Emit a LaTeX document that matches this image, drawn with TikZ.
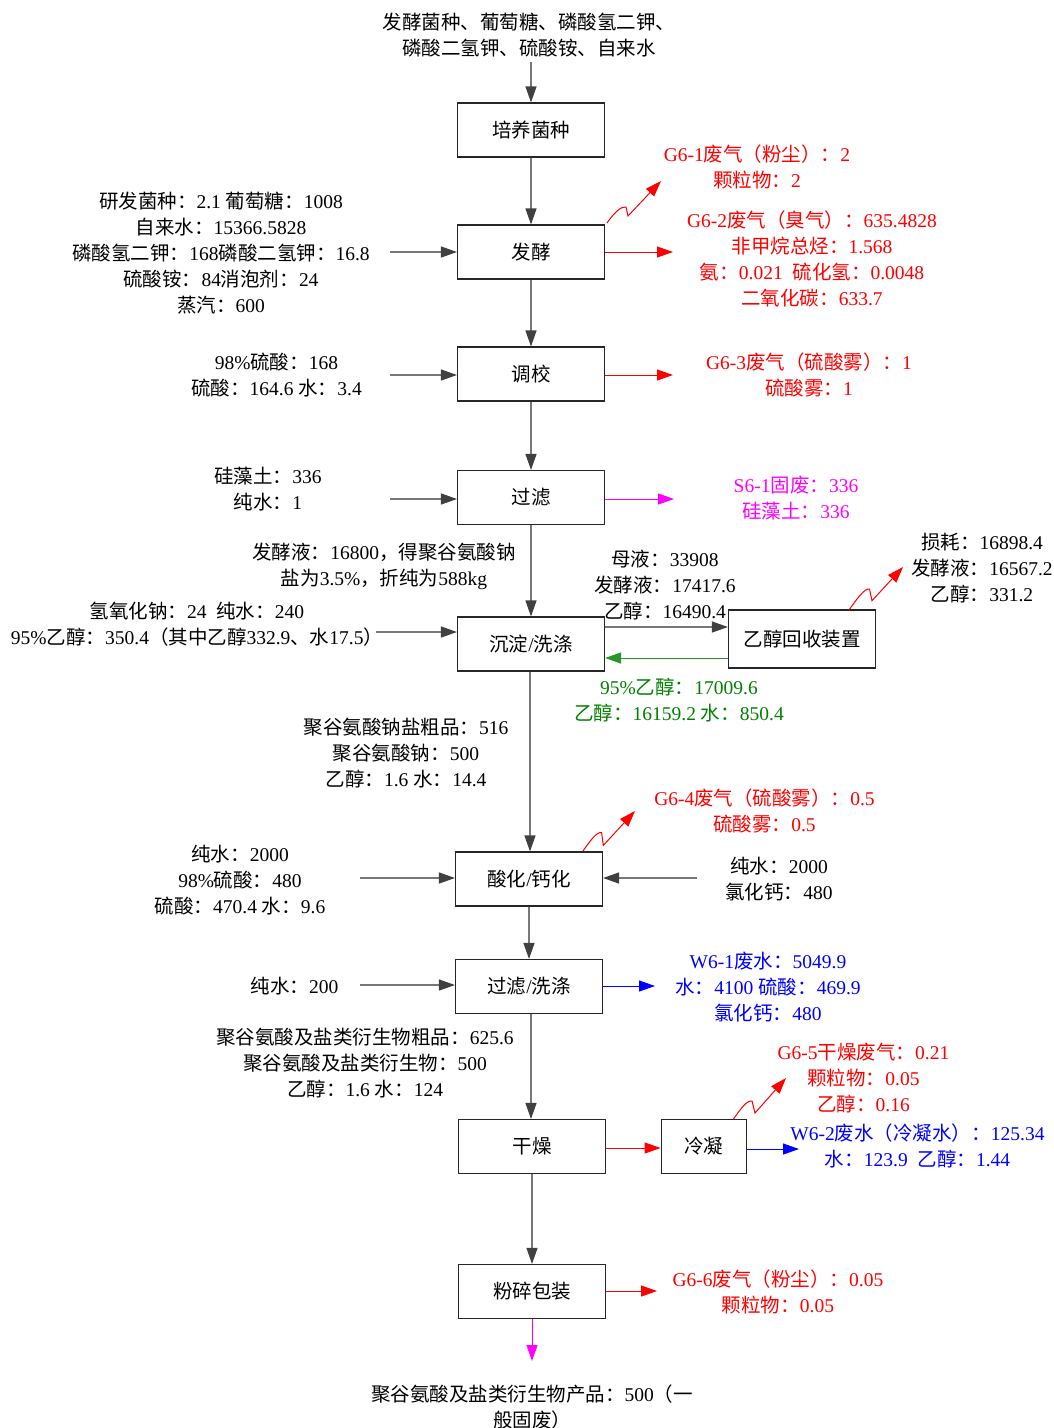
\documentclass[tikz,border=0pt]{standalone}
\usepackage{fontspec}
\setmainfont{Liberation Serif}
\newfontfamily\latfont{Liberation Serif}
\newfontfamily\cjkfont{Noto Sans CJK SC}
\usetikzlibrary{arrows.meta,calc}
\newXeTeXintercharclass\CJKcls
\newcount\myc
\def\setcls#1#2{\myc=#1\relax\loop\XeTeXcharclass\myc=\CJKcls\relax\ifnum\myc<#2\relax\advance\myc by 1\relax\repeat}
\setcls{"3000}{"303F}
\setcls{"4E00}{"9FFF}
\setcls{"FF00}{"FFEF}
\XeTeXinterchartoks 0 \CJKcls = {\cjkfont}
\XeTeXinterchartoks 4095 \CJKcls = {\cjkfont}
\XeTeXinterchartoks \CJKcls 0 = {\latfont}
\XeTeXinterchartoks \CJKcls 4095 = {\latfont}
\XeTeXinterchartokenstate=1
\definecolor{cred}{RGB}{255,0,0}
\definecolor{cmag}{RGB}{255,0,255}
\definecolor{cblue}{RGB}{0,0,255}
\definecolor{cgreen}{RGB}{0,128,0}
\definecolor{cgline}{RGB}{40,150,40}
\definecolor{cgray}{RGB}{120,120,120}
\definecolor{cdark}{RGB}{64,64,64}
\tikzset{
  box/.style={draw=black!85, line width=1.1pt, minimum width=147pt, minimum height=54pt, inner sep=0pt, font=\fontsize{19.5}{26}\selectfont},
  txt/.style={align=center, inner sep=0pt, font=\fontsize{19.5}{26}\selectfont},
  tip/.style={-{Triangle[length=16pt,width=11pt]}, line width=1pt},
  garr/.style={-{Triangle[length=16pt,width=11pt,color=cdark]}, line width=1.1pt, draw=cgray},
  rarr/.style={tip, draw=cred},
  marr/.style={tip, draw=cmag},
  barr/.style={tip, draw=cblue},
  gnarr/.style={tip, draw=cgline},
  wave/.style={-{Triangle[length=16pt,width=11pt]}, draw=cred, line width=1pt, line join=miter},
}
\begin{document}
\begin{tikzpicture}[x=1pt,y=-1pt]
\useasboundingbox (0,0) rectangle (1053,1428);
% process boxes
\node[box] (b1) at (531,130) {培养菌种};
\node[box] (b2) at (531,252) {发酵};
\node[box] (b3) at (531,374) {调校};
\node[box] (b4) at (531,497.5) {过滤};
\node[box] (b5) at (531,644) {沉淀/洗涤};
\node[box, minimum height=58pt] (b6) at (802,639) {乙醇回收装置};
\node[box] (b7) at (529,879) {酸化/钙化};
\node[box] (b8) at (529,986.5) {过滤/洗涤};
\node[box] (b9) at (532,1146.5) {干燥};
\node[box, minimum width=85pt] (b10) at (703.6,1146.5) {冷凝};
\node[box] (b11) at (532,1291.5) {粉碎包装};

% texts
\node[txt] (t0) at (529,35) {发酵菌种、葡萄糖、磷酸氢二钾、\\磷酸二氢钾、硫酸铵、自来水};
\node[txt] (l2) at (221,253) {研发菌种：2.1 葡萄糖：1008\\自来水：15366.5828\\磷酸氢二钾：168磷酸二氢钾：16.8\\硫酸铵：84消泡剂：24\\蒸汽：600};
\node[txt] (l3) at (276.5,375) {98\%硫酸：168\\硫酸：164.6 水：3.4};
\node[txt] (l4) at (268,489) {硅藻土：336\\纯水：1};
\node[txt, text=cred] (r1) at (757,167) {G6-1废气（粉尘）：2\\颗粒物：2};
\node[txt, text=cred] (r2) at (812,259) {G6-2废气（臭气）：635.4828\\非甲烷总烃：1.568\\氨：0.021 \ 硫化氢：0.0048\\二氧化碳：633.7};
\node[txt, text=cred] (r3) at (809,375) {G6-3废气（硫酸雾）：1\\硫酸雾：1};
\node[txt, text=cmag] (r4) at (796,498) {S6-1固废：336\\硅藻土：336};
\node[txt] (m1) at (384,566) {发酵液：16800，得聚谷氨酸钠\\盐为3.5\%，折纯为588kg};
\node[txt] (l5) at (197,624) {氢氧化钠：24 \ 纯水：240\\95\%乙醇：350.4（其中乙醇332.9、水17.5）};
\node[txt] (m2) at (665,585) {母液：33908\\发酵液：17417.6\\乙醇：16490.4};
\node[txt] (r5) at (982,568) {损耗：16898.4\\发酵液：16567.2\\乙醇：331.2};
\node[txt, text=cgreen] (g1) at (679,700) {95\%乙醇：17009.6\\乙醇：16159.2 水：850.4};
\node[txt] (m3) at (406,753) {聚谷氨酸钠盐粗品：516\\聚谷氨酸钠：500\\乙醇：1.6 水：14.4};
\node[txt, text=cred] (r6) at (764.5,811) {G6-4废气（硫酸雾）：0.5\\硫酸雾：0.5};
\node[txt] (l7) at (240,880) {纯水：2000\\98\%硫酸：480\\硫酸：470.4 水：9.6};
\node[txt] (r7) at (779,879) {纯水：2000\\氯化钙：480};
\node[txt] (l8) at (294.6,986) {纯水：200};
\node[txt, text=cblue] (bl1) at (768,987) {W6-1废水：5049.9\\水：4100 硫酸：469.9\\氯化钙：480};
\node[txt] (m4) at (365,1063) {聚谷氨酸及盐类衍生物粗品：625.6\\聚谷氨酸及盐类衍生物：500\\乙醇：1.6 水：124};
\node[txt, text=cred] (r8) at (863.5,1078) {G6-5干燥废气：0.21\\颗粒物：0.05\\乙醇：0.16};
\node[txt, text=cblue] (bl2) at (917.5,1146) {W6-2废水（冷凝水）：125.34\\水：123.9 \ 乙醇：1.44};
\node[txt, text=cred] (r9) at (778,1292) {G6-6废气（粉尘）：0.05\\颗粒物：0.05};
\node[txt] (p) at (532,1407) {聚谷氨酸及盐类衍生物产品：500（一\\般固废）};

% free ends
\coordinate (c0) at (531,62);
\coordinate (in2) at (390,252);
\coordinate (in3) at (390,375);
\coordinate (in4) at (390,499);
\coordinate (in5) at (376,632);
\coordinate (in7) at (360,878);
\coordinate (in7r) at (697,878);
\coordinate (in8) at (360,985);
\coordinate (o2) at (673,252);
\coordinate (o3) at (673,375);
\coordinate (o4) at (674,499);
\coordinate (o8) at (655,986);
\coordinate (o10) at (799,1149);
\coordinate (o11) at (657,1291);
\coordinate (o12) at (532,1361);
\coordinate (e1) at (604,627);
\coordinate (e2) at (729,658);
\coordinate (x1) at (530,0);
\coordinate (x2) at (531,0);
\coordinate (y1) at (0,1148);

% main vertical flow
\draw[garr] (c0) -- (c0 |- b1.north);
\draw[garr] (b1.south) -- (b1.south |- b2.north);
\draw[garr] (b2.south) -- (b2.south |- b3.north);
\draw[garr] (b3.south) -- (b3.south |- b4.north);
\draw[garr] (b4.south) -- (b4.south |- b5.north);
\draw[garr] (x1 |- b5.south) -- (x1 |- b7.north);
\draw[garr] (b7.south) -- (b7.south |- b8.north);
\draw[garr] (x2 |- b8.south) -- (x2 |- b9.north);
\draw[garr] (b9.south) -- (b9.south |- b11.north);
\draw[marr] (b11.south) -- (o12);

% inputs
\draw[garr] (in2) -- (in2 -| b2.west);
\draw[garr] (in3) -- (in3 -| b3.west);
\draw[garr] (in4) -- (in4 -| b4.west);
\draw[garr] (in5) -- (in5 -| b5.west);
\draw[garr] (in7) -- (in7 -| b7.west);
\draw[garr] (in7r) -- (in7r -| b7.east);
\draw[garr] (in8) -- (in8 -| b8.west);

% ethanol recovery loop
\draw[garr] (e1 -| b5.east) -- (e1 -| b6.west);
\draw[gnarr] (e2 -| b6.west) -- (e2 -| b5.east);

% outputs
\draw[rarr] (b2.east) -- (o2);
\draw[rarr] (b3.east |- o3) -- (o3);
\draw[marr] (b4.east |- o4) -- (o4);
\draw[barr] (b8.east |- o8) -- (o8);
\draw[rarr] (y1 -| b9.east) -- (y1 -| b10.west);
\draw[barr] (b10.east |- o10) -- (o10);
\draw[rarr] (b11.east |- o11) -- (o11);

% waves
\coordinate (w1s) at (607,223); \coordinate (w1p) at (626,207); \coordinate (w1d) at (628,216); \coordinate (w1t) at (661,181);
\draw[wave] (w1s) .. controls ($(w1s)+(7,-10)$) and ($(w1p)+(-5,-1)$) .. (w1p) -- (w1d) -- (w1t);
\coordinate (w2s) at (849,610); \coordinate (w2p) at (869.5,589); \coordinate (w2d) at (872,600.7); \coordinate (w2t) at (903,567);
\draw[wave] (w2s) .. controls ($(w2s)+(7,-10)$) and ($(w2p)+(-5,-1)$) .. (w2p) -- (w2d) -- (w2t);
\coordinate (w3s) at (583,851); \coordinate (w3p) at (601.6,832.6); \coordinate (w3d) at (603.3,845.4); \coordinate (w3t) at (635,811);
\draw[wave] (w3s) .. controls ($(w3s)+(7,-10)$) and ($(w3p)+(-5,-1)$) .. (w3p) -- (w3d) -- (w3t);
\coordinate (w4s) at (733.5,1119); \coordinate (w4p) at (752,1101); \coordinate (w4d) at (755,1113); \coordinate (w4t) at (786,1078);
\draw[wave] (w4s) .. controls ($(w4s)+(7,-10)$) and ($(w4p)+(-5,-1)$) .. (w4p) -- (w4d) -- (w4t);
\end{tikzpicture}
\end{document}
